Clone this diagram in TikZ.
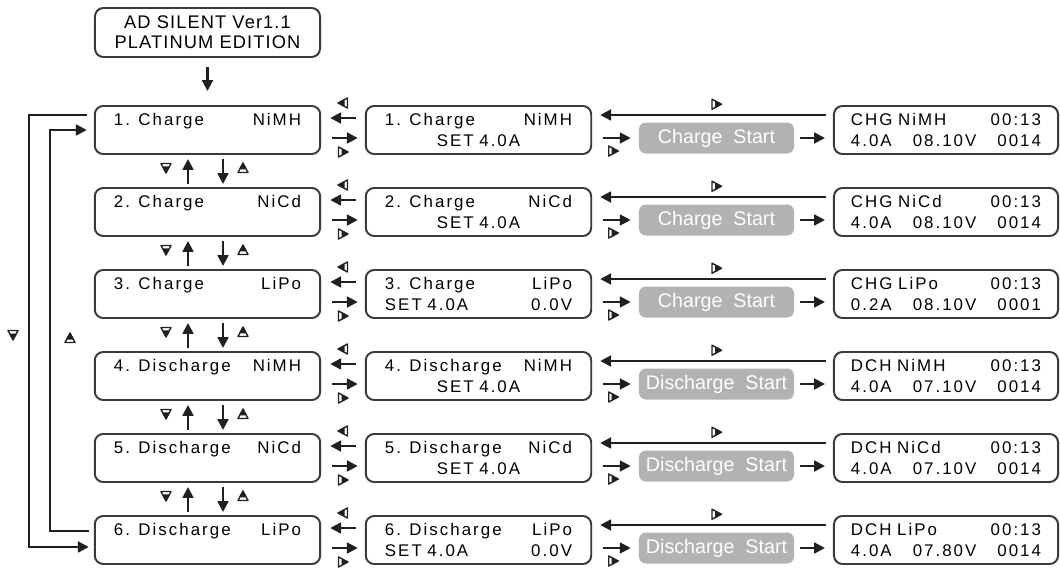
\documentclass[tikz,border=0pt]{standalone}
\usepackage{fontspec}
\setmainfont{Liberation Sans}
\newfontfamily\lcdfont[LetterSpace=12]{Liberation Sans}
\newfontfamily\titlefont[LetterSpace=6]{Liberation Sans}
\usetikzlibrary{arrows.meta,calc}

\definecolor{framegray}{HTML}{3A3A3A}
\definecolor{btngray}{HTML}{B2B2B2}
\definecolor{arrowblack}{HTML}{231F20}

\newcommand\lcdspacing{\fontdimen2\font=6pt\relax\spaceskip=6pt plus 1pt minus 0.5pt\relax}
\newcommand\midset{\hspace*{\fill}SET 4.0A\hspace*{\fill}\mbox{}}

\tikzset{
  lcd/.style={draw=framegray, line width=1.4pt, rounded corners=6pt, inner ysep=0pt,
    minimum height=1.2cm, align=left, font=\lcdfont\fontsize{12}{15}\selectfont\lcdspacing},
  menubox/.style={lcd, text width=4.675cm, inner xsep=0.48cm},
  showbox/.style={lcd, text width=4.75cm, inner xsep=0.425cm},
  titlebox/.style={draw=framegray, line width=1.4pt, rounded corners=6pt, align=center,
    minimum width=5.625cm, minimum height=1.225cm, inner sep=0pt, font=\titlefont\fontsize{13}{14.2}\selectfont},
  btn/.style={fill=btngray, text=white, rounded corners=5pt, minimum width=3.875cm,
    minimum height=0.775cm, inner sep=0pt, font=\fontsize{14}{16}\selectfont},
  arr/.style={draw=arrowblack, line width=1.6pt, -{Triangle[length=0.27cm,width=0.27cm]}},
  navkey/.pic={
    \draw[arrowblack, line width=1pt, fill=white, line join=round] (-4.5,-5) -- (5,0) -- (-4.5,5) -- cycle;
    \fill[arrowblack] (-1.5,-3.5) -- (5,0) -- (-1.5,3.5) -- cycle;
  }
}

\begin{document}
\begin{tikzpicture}[x=0.025cm, y=-0.025cm]
\useasboundingbox (0,0) rectangle (1060,567);

% start screen
\node[titlebox] (title) at (207.5,32.5) {AD SILENT Ver1.1\\PLATINUM EDITION};

% menu column
\node[menubox] (L1) at (207.5,130) {1. Charge\hfill NiMH\\\mbox{}};
\node[menubox] (L2) at (207.5,212) {2. Charge\hfill NiCd\\\mbox{}};
\node[menubox] (L3) at (207.5,294) {3. Charge\hfill LiPo\\\mbox{}};
\node[menubox] (L4) at (207.5,376) {4. Discharge\hfill NiMH\\\mbox{}};
\node[menubox] (L5) at (207.5,458) {5. Discharge\hfill NiCd\\\mbox{}};
\node[menubox] (L6) at (207.5,540) {6. Discharge\hfill LiPo\\\mbox{}};

% setting column
\node[menubox] (M1) at (478.5,130) {1. Charge\hfill NiMH\\\midset};
\node[menubox] (M2) at (478.5,212) {2. Charge\hfill NiCd\\\midset};
\node[menubox] (M3) at (478.5,294) {3. Charge\hfill LiPo\\SET 4.0A\hfill 0.0V};
\node[menubox] (M4) at (478.5,376) {4. Discharge\hfill NiMH\\\midset};
\node[menubox] (M5) at (478.5,458) {5. Discharge\hfill NiCd\\\midset};
\node[menubox] (M6) at (478.5,540) {6. Discharge\hfill LiPo\\SET 4.0A\hfill 0.0V};

% start buttons
\node[btn] (S1) at (716.5,138) {Charge\ \ Start};
\node[btn] (S2) at (716.5,220) {Charge\ \ Start};
\node[btn] (S3) at (716.5,302) {Charge\ \ Start};
\node[btn] (S4) at (716.5,384) {Discharge\ \ Start};
\node[btn] (S5) at (716.5,466) {Discharge\ \ Start};
\node[btn] (S6) at (716.5,548) {Discharge\ \ Start};

% running screens
\node[showbox] (R1) at (946,130) {CHG NiMH\hfill 00:13\\4.0A\hfill 08.10V\hfill 0014};
\node[showbox] (R2) at (946,212) {CHG NiCd\hfill 00:13\\4.0A\hfill 08.10V\hfill 0014};
\node[showbox] (R3) at (946,294) {CHG LiPo\hfill 00:13\\0.2A\hfill 08.10V\hfill 0001};
\node[showbox] (R4) at (946,376) {DCH NiMH\hfill 00:13\\4.0A\hfill 07.10V\hfill 0014};
\node[showbox] (R5) at (946,458) {DCH NiCd\hfill 00:13\\4.0A\hfill 07.10V\hfill 0014};
\node[showbox] (R6) at (946,540) {DCH LiPo\hfill 00:13\\4.0A\hfill 07.80V\hfill 0014};

\draw[arr] ($(title.south)+(0,9)$) -- ($(L1.north)+(0,-14)$);

% arrows along each row
\foreach \i in {1,...,6}{
  \draw[arr] ($(M\i.west)+(-9,-12)$) -- ($(L\i.east)+(9,-12)$);
  \draw[arr] ($(L\i.east)+(11,8)$) -- ($(M\i.west)+(-7,8)$);
  \pic[rotate=180] at ($(L\i.east)!0.5!(M\i.west)+(0,-27)$) {navkey};
  \pic at ($(L\i.east)!0.5!(M\i.west)+(0,22)$) {navkey};
  \draw[arr] ($(M\i.east)+(11,8)$) -- ($(S\i.west)+(-8,0)$);
  \pic at ($(M\i.east)+(21,21)$) {navkey};
  \draw[arr] ($(R\i.west)+(-7,-15)$) -- ($(M\i.east)+(8,-15)$);
  \pic at ($(S\i.north)+(0,-18)$) {navkey};
  \draw[arr] ($(S\i.east)+(6,0)$) -- ($(R\i.west)+(-8,8)$);
}

% up/down between menu items
\foreach \j in {1,...,5}{
  \pgfmathtruncatemacro\k{\j+1}
  \draw[arr] ($(L\k.north)+(-19.5,-3)$) -- ($(L\j.south)+(-19.5,4)$);
  \draw[arr] ($(L\j.south)+(15.5,4)$) -- ($(L\k.north)+(15.5,-3)$);
  \pic[rotate=-90] at ($(L\j.south)+(-41.5,13)$) {navkey};
  \pic[rotate=90] at ($(L\j.south)+(35.5,13)$) {navkey};
}

% wrap-around loops
\draw[arr] ($(L1.west)+(-7,-15)$) -- ++(-58,0) |- ($(L6.west)+(-5,7)$);
\draw[arr] ($(L6.west)+(-5,-9)$) -- ++(-39,0) |- ($(L1.west)+(-7,0)$);
\pic[rotate=-90] at (13,335) {navkey};
\pic[rotate=90] at (70,338) {navkey};

\end{tikzpicture}
\end{document}
